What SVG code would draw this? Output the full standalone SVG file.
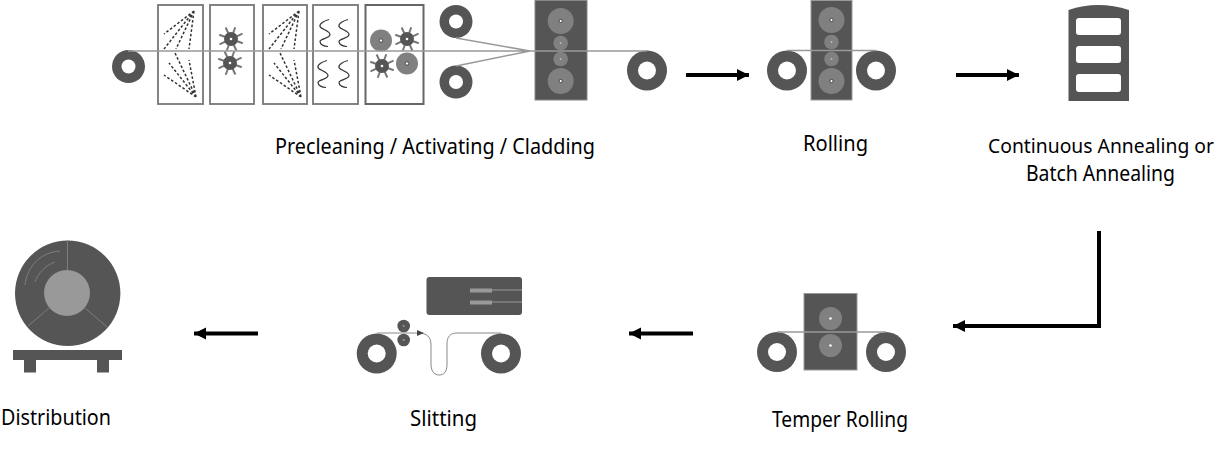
<svg xmlns="http://www.w3.org/2000/svg" xmlns:xlink="http://www.w3.org/1999/xlink" width="1226" height="458" viewBox="0 0 1226 458">
<style>
text{font-family:"Noto Sans","Open Sans","Liberation Sans",sans-serif;font-size:21px;fill:#000;text-anchor:start}
.d{fill:#555}
.r{fill:#808080}
.h{fill:#fff}
.b{fill:#fff;stroke:#777;stroke-width:1.8}
.s{fill:none;stroke:#999;stroke-width:1.5}
.t{fill:none;stroke:#333;stroke-width:1.2}
.dash{fill:none;stroke:#333;stroke-width:1.5;stroke-dasharray:2.6 2}
.sp{stroke:#777;stroke-width:2;fill:none}
.a{fill:none;stroke:#000;stroke-width:4}
.c{fill:#fff;stroke:#222;stroke-width:.7}
</style>
<defs>
<marker id="ah" viewBox="0 0 10 10" refX="10" refY="5" markerWidth="3" markerHeight="3.2" orient="auto-start-reverse" markerUnits="strokeWidth"><path d="M0 0L10 5L0 10Z" fill="#000"/></marker>
<g id="sprocket"><path class="sp" transform="rotate(20)" d="M0-12.500V12.500M-12.500 0H12.500M-9-9L9 9M-9 9L9-9"/><circle class="d" r="7"/><circle class="h" r="1.300"/></g>
<g id="wheel"><circle r="11" class="r"/><circle r="1.700" class="c"/></g>
<path id="sq" class="t" d="M4 0C0 1-6 4-5 7C-4 10 5 11 5 15C5 19-5 19-5 22C-5 25-1 27 3 27"/>
<path id="spray" class="dash" d="M36 6L6 29M36 6L6 44M36 6L18 44M36 6L31 44M38 92L6 70M38 92L11 58M38 92L17 48M38 92L31 55"/>
</defs>
<g id="connectors">
<path class="a" marker-end="url(#ah)" d="M686 75H749"/>
<path class="a" marker-end="url(#ah)" d="M956 75H1019"/>
<path class="a" marker-end="url(#ah)" d="M1099 231V326H953"/>
<path class="a" marker-end="url(#ah)" d="M693 333.500H629"/>
<path class="a" marker-end="url(#ah)" d="M258 333.500H194"/>
</g>
<g id="node-clad">
<rect class="b" x="158" y="5" width="45" height="99"/>
<rect class="b" x="210" y="5" width="44" height="99"/>
<rect class="b" x="263" y="5" width="44" height="99"/>
<rect class="b" x="313" y="5" width="45" height="99"/>
<rect class="b" x="365.500" y="5" width="58" height="99" style="stroke-width:2;stroke:#666"/>
<use xlink:href="#spray" x="158" y="5"/>
<use xlink:href="#spray" x="263" y="5"/>
<use xlink:href="#sprocket" x="231" y="39"/>
<use xlink:href="#sprocket" x="230" y="63"/>
<use xlink:href="#wheel" x="381" y="40.500"/>
<use xlink:href="#sprocket" x="407" y="39"/>
<use xlink:href="#sprocket" x="382" y="66"/>
<use xlink:href="#wheel" x="407" y="63.500"/>
<use xlink:href="#sq" x="325" y="19.500"/>
<use xlink:href="#sq" x="344" y="19.500"/>
<use xlink:href="#sq" x="323" y="60.500"/>
<use xlink:href="#sq" x="344" y="60.500"/>
<circle class="d" cx="128.500" cy="66.500" r="16.500"/><circle class="h" cx="128.500" cy="66.500" r="7"/>
<circle class="d" cx="456" cy="21.500" r="16.500"/><circle class="h" cx="456" cy="21.500" r="7"/>
<circle class="d" cx="456" cy="82" r="16.500"/><circle class="h" cx="456" cy="82" r="7"/>
<rect class="d" x="535" y="0.500" width="52" height="99.500" stroke="#888"/>
<circle class="r" cx="560.700" cy="21" r="13"/><circle class="r" cx="560.700" cy="43" r="7.300"/><circle class="r" cx="560.700" cy="59" r="7.300"/><circle class="r" cx="560.700" cy="81" r="13"/>
<circle class="c" cx="560.700" cy="21" r="1.600"/><circle class="c" cx="560.700" cy="81" r="1.600"/>
<circle cx="560.700" cy="43" r=".9" fill="#bbb"/><circle cx="560.700" cy="59" r=".9" fill="#bbb"/>
<circle class="d" cx="647" cy="70.500" r="20"/><circle class="h" cx="647" cy="70.500" r="9"/>
<path class="s" d="M128 51H647M456 38L530 51L456 66"/>
<text x="275" y="153.500" textLength="320" lengthAdjust="spacingAndGlyphs">Precleaning / Activating / Cladding</text>
</g>
<g id="node-rolling">
<circle class="d" cx="787" cy="70.500" r="20"/><circle class="h" cx="787" cy="70.500" r="9"/>
<circle class="d" cx="876" cy="70.500" r="20"/><circle class="h" cx="876" cy="70.500" r="9"/>
<rect class="d" x="811" y="0.500" width="41" height="99.500" stroke="#999"/>
<circle class="r" cx="831.500" cy="20" r="13"/><circle class="r" cx="831.500" cy="42" r="7.300"/><circle class="r" cx="831.500" cy="59" r="7.300"/><circle class="r" cx="831.500" cy="81" r="13"/>
<circle class="c" cx="831.500" cy="20" r="1.600"/><circle class="c" cx="831.500" cy="81" r="1.600"/>
<circle cx="831.500" cy="42" r=".9" fill="#bbb"/><circle cx="831.500" cy="59" r=".9" fill="#bbb"/>
<path class="s" d="M787 50.500H876"/>
<text x="803" y="150.500" textLength="65" lengthAdjust="spacingAndGlyphs">Rolling</text>
</g>
<g id="node-annealing">
<path class="d" d="M1068.500 101V10Q1098 0 1129 10V101Z"/>
<rect class="h" x="1076" y="18" width="45" height="17" rx="3"/>
<rect class="h" x="1076" y="46" width="45" height="17" rx="3"/>
<rect class="h" x="1076" y="74" width="45" height="18" rx="3"/>
<text x="988" y="152.500" textLength="226" lengthAdjust="spacingAndGlyphs" style="font-size:20px">Continuous Annealing or</text>
<text x="1026" y="180.500" textLength="149" lengthAdjust="spacingAndGlyphs">Batch Annealing</text>
</g>
<g id="node-temper">
<circle class="d" cx="777" cy="352" r="20"/><circle class="h" cx="777" cy="352" r="9"/>
<circle class="d" cx="886" cy="352" r="20"/><circle class="h" cx="886" cy="352" r="9"/>
<rect class="d" x="804" y="293.500" width="53" height="76.500" stroke="#999"/>
<circle class="r" cx="830.500" cy="318.500" r="11.500"/><circle class="r" cx="830.500" cy="345.500" r="11.500"/>
<circle class="h" cx="830.500" cy="318.500" r="1.200"/><circle class="h" cx="830.500" cy="345.500" r="1.200"/>
<path class="s" d="M777 332H886"/>
<text x="772" y="426.500" textLength="136" lengthAdjust="spacingAndGlyphs">Temper Rolling</text>
</g>
<g id="node-slitting">
<rect class="d" x="426.500" y="277" width="95.500" height="38" rx="3"/>
<path d="M470 290.500H492M470 302.500H492" stroke="#999" stroke-width="4"/>
<path d="M492 290H522M492 302H522" stroke="#999" stroke-width="1"/>
<circle class="d" cx="403.700" cy="326" r="6.300"/><circle class="d" cx="403.700" cy="340" r="6.300"/>
<circle fill="#999" cx="403.700" cy="326" r="1"/><circle fill="#999" cx="403.700" cy="340" r="1"/>
<circle class="d" cx="376.700" cy="353.500" r="20"/><circle class="h" cx="376.700" cy="353.500" r="9"/>
<circle class="d" cx="501" cy="353.500" r="20"/><circle class="h" cx="501" cy="353.500" r="9"/>
<path d="M377 333H418C427 333 431 337 431 345V364C431 372 435 375 439 375C444 375 447 372 447 364V344C447 337 450 333 457 333H501" fill="none" stroke="#888" stroke-width="1"/>
<path d="M417 330L424 333L417 336Z" fill="#444"/>
<text x="410" y="425.500" textLength="67" lengthAdjust="spacingAndGlyphs">Slitting</text>
</g>
<g id="node-distribution">
<circle class="d" cx="67.700" cy="293.300" r="52.700"/>
<path d="M67.500 240V270M49 308L28 326M85 308L107 327M25 285C27 265 42 252 60 251M35 282C38 273 46 265 55 262" fill="none" stroke="#888" stroke-width=".8"/>
<circle cx="67" cy="293" r="23" fill="#999"/>
<rect class="d" x="13" y="350" width="109" height="10"/>
<rect class="d" x="24" y="360" width="12" height="12.500"/>
<rect class="d" x="97" y="360" width="12" height="12.500"/>
<text x="1" y="424.500" textLength="110" lengthAdjust="spacingAndGlyphs">Distribution</text>
</g>
</svg>
